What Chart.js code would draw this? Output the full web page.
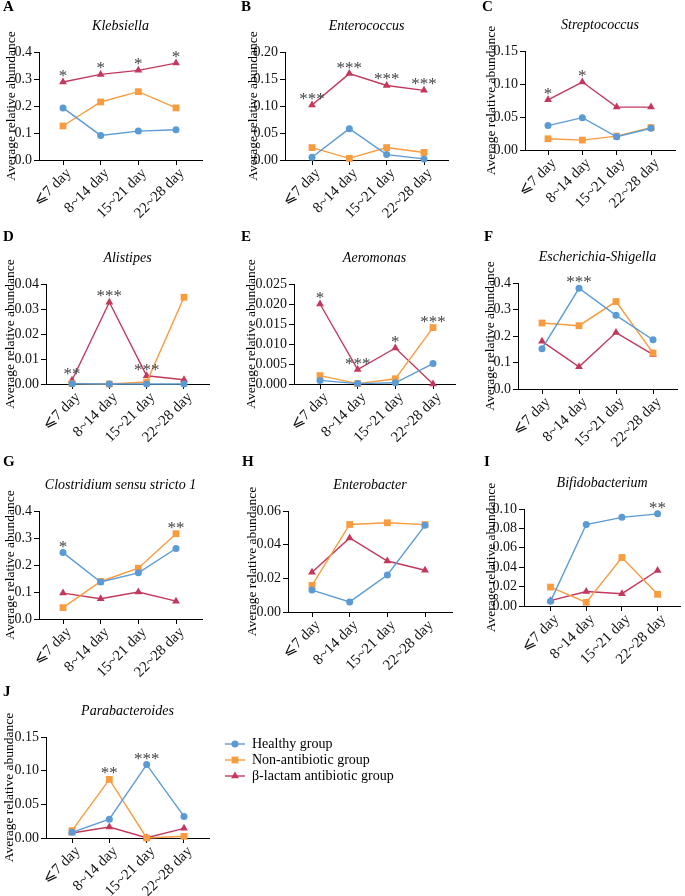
<!DOCTYPE html>
<html>
<head>
<meta charset="utf-8">
<script src="https://cdn.jsdelivr.net/npm/chart.js@4.4.1/dist/chart.umd.min.js"></script>
<style>
html,body{margin:0;padding:0;background:#fff;}
#wrap{position:relative;width:685px;height:896px;overflow:hidden;background:#fff;}
#wrap canvas{position:absolute;left:0;top:0;}
</style>
</head>
<body>
<div id="wrap"></div>
<script>
// ---------- data ----------
const categories = ['⩽7 day', '8~14 day', '15~21 day', '22~28 day'];
const seriesNames = ['Healthy group', 'Non-antibiotic group', 'β-lactam antibiotic group'];

const klebsiellaHealthy = [0.193, 0.091, 0.107, 0.112];
const klebsiellaNon     = [0.126, 0.215, 0.253, 0.193];
const klebsiellaBeta    = [0.289, 0.317, 0.332, 0.359];

const enterococcusHealthy = [0.005, 0.058, 0.010, 0.002];
const enterococcusNon     = [0.023, 0.003, 0.023, 0.014];
const enterococcusBeta    = [0.102, 0.160, 0.138, 0.129];

const streptococcusHealthy = [0.037, 0.049, 0.020, 0.033];
const streptococcusNon     = [0.017, 0.015, 0.021, 0.034];
const streptococcusBeta    = [0.076, 0.103, 0.065, 0.065];

const alistipesHealthy = [0.0001, 0.0000, 0.0000, 0.0000];
const alistipesNon     = [0.0002, 0.0000, 0.0008, 0.0347];
const alistipesBeta    = [0.0015, 0.0327, 0.0033, 0.0017];

const aeromonasHealthy = [0.0009, 0.0001, 0.0003, 0.0051];
const aeromonasNon     = [0.0021, 0.0001, 0.0013, 0.0141];
const aeromonasBeta    = [0.0200, 0.0036, 0.0090, 0.0000];

const escherichiaHealthy = [0.152, 0.380, 0.278, 0.186];
const escherichiaNon     = [0.249, 0.239, 0.330, 0.136];
const escherichiaBeta    = [0.180, 0.084, 0.213, 0.130];

const clostridiumHealthy = [0.246, 0.137, 0.171, 0.261];
const clostridiumNon     = [0.042, 0.139, 0.188, 0.316];
const clostridiumBeta    = [0.096, 0.075, 0.100, 0.066];

const enterobacterHealthy = [0.0130, 0.0060, 0.0220, 0.0515];
const enterobacterNon     = [0.0158, 0.0520, 0.0530, 0.0519];
const enterobacterBeta    = [0.0236, 0.0440, 0.0303, 0.0248];

const bifidoHealthy = [0.0048, 0.0840, 0.0914, 0.0950];
const bifidoNon     = [0.0195, 0.0038, 0.0500, 0.0120];
const bifidoBeta    = [0.0055, 0.0150, 0.0127, 0.0366];

const parabactHealthy = [0.0084, 0.0280, 0.1090, 0.0320];
const parabactNon     = [0.0110, 0.0870, 0.0000, 0.0025];
const parabactBeta    = [0.0074, 0.0163, 0.0005, 0.0144];

// significance marks: [series index, category index, text]
const klebsiellaStars   = [[2,0,'*'],[2,1,'*'],[2,2,'*'],[2,3,'*']];
const enterococcusStars = [[2,0,'***'],[2,1,'***'],[2,2,'***'],[2,3,'***']];
const streptococcusStars= [[2,0,'*'],[2,1,'*']];
const alistipesStars    = [[2,0,'**'],[2,1,'***'],[2,2,'***']];
const aeromonasStars    = [[2,0,'*'],[2,1,'***'],[2,2,'*'],[1,3,'***']];
const escherichiaStars  = [[0,1,'***']];
const clostridiumStars  = [[0,0,'*'],[1,3,'**']];
const enterobacterStars = [];
const bifidoStars       = [[0,3,'**']];
const parabactStars     = [[1,1,'**'],[0,2,'***']];

// y tick labels
const ticksA = [0.0, 0.1, 0.2, 0.3, 0.4];
const ticksB = [0.00, 0.05, 0.10, 0.15, 0.20];
const ticksC = [0.00, 0.05, 0.10, 0.15];
const ticksD = [0.00, 0.01, 0.02, 0.03, 0.04];
const ticksE = [0.000, 0.005, 0.010, 0.015, 0.020, 0.025];
const ticksF = [0.0, 0.1, 0.2, 0.3, 0.4];
const ticksG = [0.0, 0.1, 0.2, 0.3, 0.4];
const ticksH = [0.00, 0.02, 0.04, 0.06];
const ticksI = [0.00, 0.02, 0.04, 0.06, 0.08, 0.10];
const ticksJ = [0.00, 0.05, 0.10, 0.15];

// ---------- styles ----------
const FONT = "'Liberation Serif', 'Times New Roman', 'DejaVu Serif', serif";
const colors = ['#5b9bd5', '#f99b3f', '#c3395d'];
const shapes = ['circle', 'rect', 'triangle'];
const radii = [3.5, 4.8, 4.5];
Chart.defaults.font.family = FONT;

// layout per panel (page pixels)
const panels = [
  {letter:'A', title:'Klebsiella', data:[klebsiellaHealthy,klebsiellaNon,klebsiellaBeta], stars:klebsiellaStars, ticks:ticksA, dec:1,
   ax:39, ae:202, yt:52, yb:160, p0:63, p3:176, letterX:3, letterY:7, yTitleX:11},
  {letter:'B', title:'Enterococcus', data:[enterococcusHealthy,enterococcusNon,enterococcusBeta], stars:enterococcusStars, ticks:ticksB, dec:2,
   ax:285, ae:448, yt:52, yb:160, p0:312, p3:424, letterX:241, letterY:7, yTitleX:253},
  {letter:'C', title:'Streptococcus', data:[streptococcusHealthy,streptococcusNon,streptococcusBeta], stars:streptococcusStars, ticks:ticksC, dec:2,
   ax:525, ae:675, yt:51, yb:150, p0:548, p3:651, letterX:482, letterY:7, yTitleX:491},
  {letter:'D', title:'Alistipes', data:[alistipesHealthy,alistipesNon,alistipesBeta], stars:alistipesStars, ticks:ticksD, dec:2,
   ax:46, ae:209, yt:284, yb:384, p0:72, p3:184, letterX:3, letterY:237, yTitleX:10},
  {letter:'E', title:'Aeromonas', data:[aeromonasHealthy,aeromonasNon,aeromonasBeta], stars:aeromonasStars, ticks:ticksE, dec:3,
   ax:294, ae:455, yt:284, yb:384, p0:320, p3:433, letterX:241, letterY:237, yTitleX:251},
  {letter:'F', title:'Escherichia-Shigella', data:[escherichiaHealthy,escherichiaNon,escherichiaBeta], stars:escherichiaStars, ticks:ticksF, dec:1,
   ax:518, ae:677, yt:283, yb:389, p0:542, p3:653, letterX:484, letterY:237, yTitleX:490},
  {letter:'G', title:'Clostridium sensu stricto 1', data:[clostridiumHealthy,clostridiumNon,clostridiumBeta], stars:clostridiumStars, ticks:ticksG, dec:1,
   ax:39, ae:202, yt:511, yb:619, p0:63, p3:176, letterX:3, letterY:462, yTitleX:10},
  {letter:'H', title:'Enterobacter', data:[enterobacterHealthy,enterobacterNon,enterobacterBeta], stars:enterobacterStars, ticks:ticksH, dec:2,
   ax:288, ae:452, yt:511, yb:612, p0:312, p3:425, letterX:242, letterY:462, yTitleX:252},
  {letter:'I', title:'Bifidobacterium', data:[bifidoHealthy,bifidoNon,bifidoBeta], stars:bifidoStars, ticks:ticksI, dec:2,
   ax:524, ae:683, yt:509, yb:606, p0:551, p3:660, letterX:484, letterY:462, yTitleX:491},
  {letter:'J', title:'Parabacteroides', data:[parabactHealthy,parabactNon,parabactBeta], stars:parabactStars, ticks:ticksJ, dec:2,
   ax:46, ae:209, yt:737, yb:838, p0:72, p3:184, letterX:3, letterY:692, yTitleX:9, legend:true}
];

const W = 685, H = 896, YAXW = 40, XAXH = 50;

function drawMarker(ctx, shape, x, y, r, color) {
  ctx.fillStyle = color;
  ctx.beginPath();
  if (shape === 'circle') { ctx.arc(x, y, r, 0, Math.PI * 2); }
  else if (shape === 'rect') { const s = r * Math.SQRT1_2; ctx.rect(x - s, y - s, 2 * s, 2 * s); }
  else { ctx.moveTo(x, y - r); ctx.lineTo(x + r * 0.866, y + r * 0.5); ctx.lineTo(x - r * 0.866, y + r * 0.5); ctx.closePath(); }
  ctx.fill();
}

const panelText = {
  id: 'panelText',
  afterDraw(chart, args, o) {
    const ctx = chart.ctx;
    const {left, right, top, bottom} = chart.chartArea;
    const xs = chart.scales.x;
    ctx.save();
    ctx.fillStyle = '#000';
    // panel letter
    ctx.font = 'bold 15px ' + FONT;
    ctx.textAlign = 'left'; ctx.textBaseline = 'middle';
    ctx.fillText(o.letter, o.letterX, o.letterY);
    // title
    ctx.font = 'italic 14px ' + FONT;
    ctx.textAlign = 'center';
    ctx.fillText(o.title, (left + right) / 2, top - 26);
    // y-axis title
    ctx.save();
    ctx.translate(o.yTitleX, (top + bottom) / 2);
    ctx.rotate(-Math.PI / 2);
    ctx.font = '13.5px ' + FONT;
    ctx.fillText('Average relative abundance', 0, 0);
    ctx.restore();
    // rotated category labels at the x-scale tick positions
    ctx.font = '15px ' + FONT;
    ctx.fillStyle = '#111';
    categories.forEach((c, k) => {
      const px = xs.getPixelForValue(k);
      ctx.save();
      ctx.translate(px + 6, bottom + 11);
      ctx.rotate(-Math.PI / 4);
      ctx.textAlign = 'right'; ctx.textBaseline = 'middle';
      ctx.fillText(c, 0, 0);
      ctx.restore();
    });
    // stars
    ctx.font = '17px ' + FONT;
    ctx.fillStyle = '#444';
    ctx.textAlign = 'center';
    ctx.textBaseline = 'alphabetic';
    o.stars.forEach(([si, ci, txt]) => {
      const pt = chart.getDatasetMeta(si).data[ci];
      ctx.fillText(txt, pt.x, pt.y - 1);
    });
    // legend
    if (o.legend) {
      const rows = [744, 760, 776];
      seriesNames.forEach((name, i) => {
        const y = rows[i];
        ctx.strokeStyle = colors[i]; ctx.lineWidth = 1.4;
        ctx.beginPath(); ctx.moveTo(225, y); ctx.lineTo(245, y); ctx.stroke();
        drawMarker(ctx, shapes[i], 235, y, radii[i], colors[i]);
        ctx.fillStyle = '#000';
        ctx.font = '14px ' + FONT;
        ctx.textAlign = 'left'; ctx.textBaseline = 'middle';
        ctx.fillText(name, 252, y);
      });
    }
    ctx.restore();
  }
};

const wrap = document.getElementById('wrap');
panels.forEach(p => {
  const cv = document.createElement('canvas');
  cv.width = W; cv.height = H;
  cv.style.width = W + 'px'; cv.style.height = H + 'px';
  wrap.appendChild(cv);
  const s = (p.p3 - p.p0) / 3;
  const xmin = -(p.p0 - p.ax) / s;
  const xmax = 3 + (p.ae - p.p3) / s;
  const ymax = p.ticks[p.ticks.length - 1];
  const datasets = p.data.map((vals, i) => ({
    label: seriesNames[i],
    data: vals.map((v, k) => ({x: k, y: v})),
    borderColor: colors[i],
    backgroundColor: colors[i],
    borderWidth: 1.4,
    pointStyle: shapes[i],
    pointRadius: radii[i],
    pointBorderWidth: 0,
    pointBackgroundColor: colors[i],
    tension: 0,
    clip: false
  }));
  new Chart(cv, {
    type: 'line',
    data: {datasets},
    plugins: [panelText],
    options: {
      responsive: false,
      animation: false,
      events: [],
      devicePixelRatio: 1,
      layout: {padding: {left: p.ax - YAXW, top: p.yt, right: W - p.ae, bottom: H - p.yb - XAXH}},
      plugins: {
        legend: {display: false},
        tooltip: {enabled: false},
        panelText: p
      },
      scales: {
        x: {
          type: 'linear', min: xmin, max: xmax,
          afterBuildTicks: sc => { sc.ticks = categories.map((c, k) => ({value: k})); },
          afterFit: sc => { sc.height = XAXH; },
          ticks: {display: false, callback: v => categories[v], autoSkip: false},
          grid: {drawOnChartArea: false, drawTicks: true, tickLength: 5, color: '#000', lineWidth: 1},
          border: {display: true, color: '#000', width: 1}
        },
        y: {
          type: 'linear', min: 0, max: ymax,
          afterBuildTicks: sc => { sc.ticks = p.ticks.map(v => ({value: v})); },
          afterFit: sc => { sc.width = YAXW; },
          ticks: {
            autoSkip: false,
            callback: v => Number(v).toFixed(p.dec),
            font: {size: 14, family: FONT}, color: '#111', padding: 2
          },
          grid: {drawOnChartArea: false, drawTicks: true, tickLength: 5, color: '#000', lineWidth: 1},
          border: {display: true, color: '#000', width: 1}
        }
      }
    }
  });
});
</script>
</body>
</html>
